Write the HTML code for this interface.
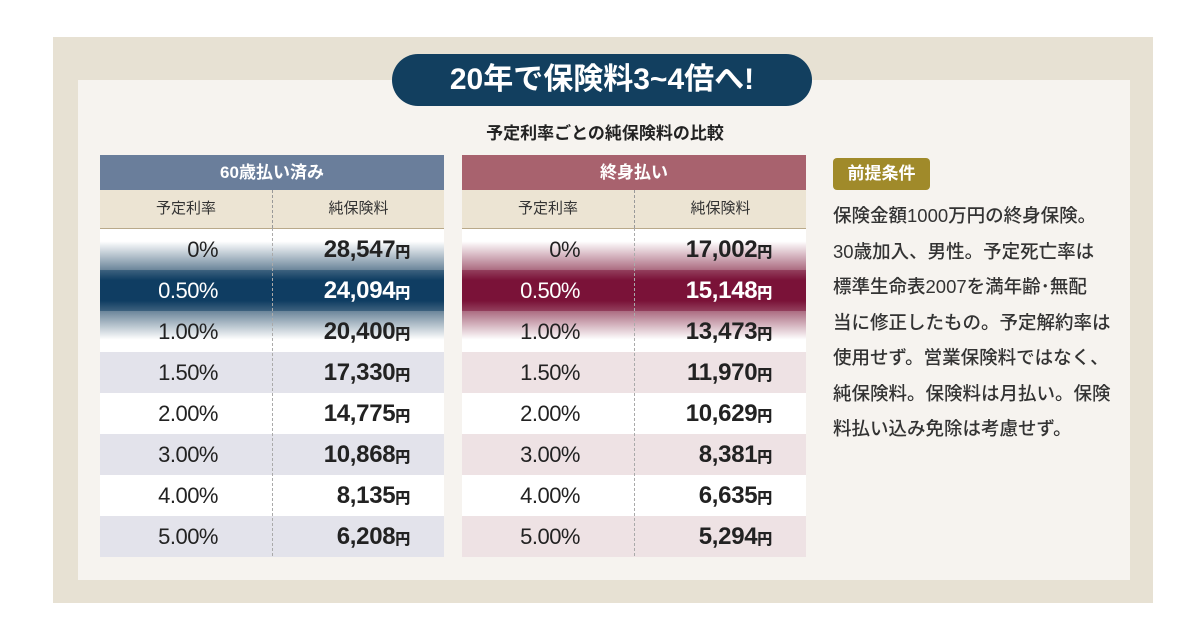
<!DOCTYPE html>
<html><head><meta charset="utf-8"><style>
body{margin:0;width:1200px;height:643px;background:#fff;position:relative;font-family:"Liberation Sans","Noto Sans CJK JP",sans-serif;overflow:hidden}
.abs{position:absolute}
.tbl{position:absolute;top:155px;width:344px}
.hd{height:35px;line-height:35px;text-align:center;color:#fff;font-size:17px;font-weight:bold}
.sub{height:38px;background:#ece4d3;display:flex;font-size:15px;color:#333;border-bottom:1px solid #b9a98a}
.sub div{flex:1;text-align:center;line-height:38px}
.sub div:first-child{flex:0 0 172px;border-right:1px dashed #999}
.row{height:41px;display:flex;font-weight:bold;color:#222;position:relative}
.row .r{flex:0 0 118px;text-align:right;font-size:22px;line-height:41px;font-weight:500;letter-spacing:-0.5px}
.row .v{flex:0 0 192px;text-align:right;font-size:24px;line-height:41px;font-weight:900;letter-spacing:-0.3px}
.row .v small{font-size:15px}
.div{position:absolute;left:172px;top:73px;height:328px;border-left:1px dashed #aaa}
.txt{font-size:18.5px;color:#333;line-height:35.5px;font-weight:500}
</style></head><body>
<div class="abs" style="left:53px;top:37px;width:1100px;height:566px;background:#e7e1d3"></div>
<div class="abs" style="left:78px;top:80px;width:1052px;height:500px;background:#f6f3ef"></div>
<div class="abs" style="left:392px;top:54px;width:420px;height:52px;border-radius:26px;background:#123f5f;color:#fff;font-size:30px;font-weight:bold;text-align:center;line-height:52px">20年で保険料3~4倍へ!</div>
<div class="abs" style="left:405px;top:119px;width:400px;text-align:center;font-size:17px;font-weight:bold;color:#222">予定利率ごとの純保険料の比較</div>

<div class="tbl" id="t1" style="left:100px">
<div class="hd" style="background:#6a7e9b">60歳払い済み</div>
<div class="sub"><div>予定利率</div><div>純保険料</div></div>
</div>
<div class="tbl" id="t2" style="left:462px">
<div class="hd" style="background:#a8626e">終身払い</div>
<div class="sub"><div>予定利率</div><div>純保険料</div></div>
</div>

<div class="abs" style="left:833px;top:158px;width:97px;height:32px;border-radius:4px;background:#a08a2a;color:#fff;font-size:17px;font-weight:bold;text-align:center;line-height:32px">前提条件</div>
<div class="abs txt" style="left:833px;top:198px;width:300px">保険金額1000万円の終身保険。<br>30歳加入、男性。予定死亡率は<br>標準生命表2007を満年齢･無配<br>当に修正したもの。予定解約率は<br>使用せず。営業保険料ではなく、<br>純保険料。保険料は月払い。保険<br>料払い込み免除は考慮せず。</div>

<script>
const rates=["0%","0.50%","1.00%","1.50%","2.00%","3.00%","4.00%","5.00%"];
const prem60=["28,547","24,094","20,400","17,330","14,775","10,868","8,135","6,208"];
const premLife=["17,002","15,148","13,473","11,970","10,629","8,381","6,635","5,294"];
function build(id,vals,hi,alt){
  const t=document.getElementById(id);
  rates.forEach((r,i)=>{
    const row=document.createElement('div');
    row.className='row';
    
    
    if(i===1){row.style.background='linear-gradient(to bottom,'+hi+'cc 0%,'+hi+' 25%,'+hi+' 75%,'+hi+'cc 100%)';row.style.color='#fff';}
    else if(i===0)row.style.background='linear-gradient(to bottom,#fff 30%,'+hi+'99 100%)';
    else if(i===2)row.style.background='linear-gradient(to bottom,'+hi+'99 0%,#fff 70%)';
    else row.style.background=(i%2===1)?alt:'#fff';
    row.innerHTML='<div class="r">'+r+'</div><div class="v">'+vals[i]+'<small>円</small></div>';
    t.appendChild(row);
  });
  const d=document.createElement('div');d.className='div';
  
  
  t.appendChild(d);
}
build('t1',prem60,'#0f3d62','#e3e3eb');
build('t2',premLife,'#7a1238','#eee2e4');
</script>
</body></html>
